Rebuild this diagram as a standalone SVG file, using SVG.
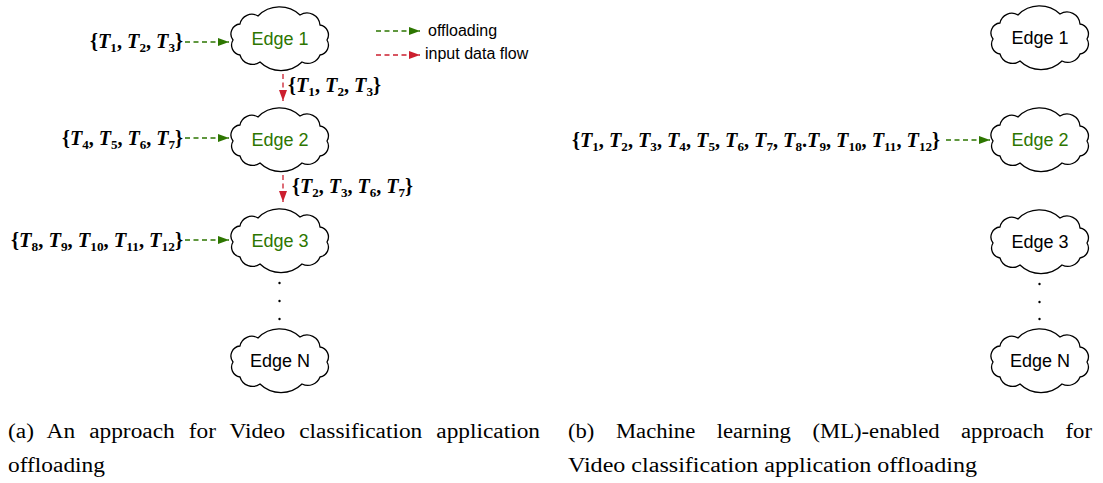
<svg xmlns="http://www.w3.org/2000/svg" width="1103" height="483" viewBox="0 0 1103 483">
<style>
.cloud{fill:#fff;stroke:#000;stroke-width:1.3}
.lbl{font-family:"Liberation Sans",Arial,sans-serif;font-size:18px;text-anchor:middle}
.g{fill:#2D7600}
.k{fill:#000}
.math{font-family:"Liberation Serif","Times New Roman",serif;font-size:20px;font-weight:bold;fill:#000}
.math .i{font-style:italic}
.leg{font-family:"Liberation Sans",Arial,sans-serif;font-size:16px;fill:#000}
.cap{font-family:"Liberation Serif","Times New Roman",serif;font-size:20px;fill:#000}
.off{stroke:#2D7600;stroke-width:1.3;stroke-dasharray:5 3.5;fill:none;marker-end:url(#ag)}
.inp{stroke:#CC1F2F;stroke-width:1.3;stroke-dasharray:5 3.5;fill:none;marker-end:url(#ar)}
.dot{fill:#000}
</style>
<defs>
<path id="cl" d="M -47 2 A 10 10 0 0 1 -40 -14 A 12 12 0 0 1 -22 -22 A 30 30 0 0 1 20 -23 A 13 13 0 0 1 40 -13 A 10 10 0 0 1 47 2 A 10 10 0 0 1 40 17 A 13 13 0 0 1 22 24 A 30 30 0 0 1 -20 24 A 13 13 0 0 1 -40 17 A 10 10 0 0 1 -47 2 Z"/>
<marker id="ag" markerUnits="userSpaceOnUse" markerWidth="12" markerHeight="9" refX="11" refY="4" orient="auto"><path d="M0,0 L11,4 L0,8 z" fill="#2D7600"/></marker>
<marker id="ar" markerUnits="userSpaceOnUse" markerWidth="12" markerHeight="9" refX="11" refY="4" orient="auto"><path d="M0,0 L11,4 L0,8 z" fill="#CC1F2F"/></marker>
</defs>

<g id="connectors">
<line class="off" x1="185" y1="42" x2="229" y2="42"/>
<line class="off" x1="185" y1="138" x2="229" y2="138"/>
<line class="off" x1="185" y1="240" x2="229" y2="240"/>
<line class="inp" x1="283" y1="74" x2="283" y2="101"/>
<line class="inp" x1="283" y1="175" x2="283" y2="202"/>
<line class="off" x1="946" y1="140" x2="990" y2="140"/>
<line class="off" x1="376" y1="31" x2="420" y2="31"/>
<line class="inp" x1="376" y1="55" x2="420" y2="55"/>
</g>

<g id="legend">
<text class="leg" x="428" y="36">offloading</text>
<text class="leg" x="425" y="59">input data flow</text>
</g>

<g id="a-edge1"><use href="#cl" class="cloud" transform="translate(280,38)"/><text class="lbl g" x="280" y="44.5">Edge 1</text></g>
<g id="a-edge2"><use href="#cl" class="cloud" transform="translate(280,139)"/><text class="lbl g" x="280" y="145.5">Edge 2</text></g>
<g id="a-edge3"><use href="#cl" class="cloud" transform="translate(280,240)"/><text class="lbl g" x="280" y="246.5">Edge 3</text></g>
<g id="a-edgeN"><use href="#cl" class="cloud" transform="translate(280,360)"/><text class="lbl k" x="280" y="366.5">Edge N</text></g>
<g id="a-dots"><circle class="dot" cx="279.5" cy="283" r="1.2"/><circle class="dot" cx="279.5" cy="301" r="1.2"/><circle class="dot" cx="279.5" cy="319" r="1.2"/></g>

<g id="b-edge1"><use href="#cl" class="cloud" transform="translate(1040,37)"/><text class="lbl k" x="1040" y="43.5">Edge 1</text></g>
<g id="b-edge2"><use href="#cl" class="cloud" transform="translate(1040,139)"/><text class="lbl g" x="1040" y="145.5">Edge 2</text></g>
<g id="b-edge3"><use href="#cl" class="cloud" transform="translate(1040,241)"/><text class="lbl k" x="1040" y="247.5">Edge 3</text></g>
<g id="b-edgeN"><use href="#cl" class="cloud" transform="translate(1040,360)"/><text class="lbl k" x="1040" y="366.5">Edge N</text></g>
<g id="b-dots"><circle class="dot" cx="1039.5" cy="284" r="1.2"/><circle class="dot" cx="1039.5" cy="302" r="1.2"/><circle class="dot" cx="1039.5" cy="319" r="1.2"/></g>

<g id="labels">
<text class="math" x="90" y="48" textLength="93" lengthAdjust="spacingAndGlyphs">{<tspan class="i">T</tspan><tspan font-size="13" dy="4">1</tspan><tspan dy="-4">, </tspan><tspan class="i">T</tspan><tspan font-size="13" dy="4">2</tspan><tspan dy="-4">, </tspan><tspan class="i">T</tspan><tspan font-size="13" dy="4">3</tspan><tspan dy="-4">}</tspan></text>
<text class="math" x="62" y="145" textLength="121" lengthAdjust="spacingAndGlyphs">{<tspan class="i">T</tspan><tspan font-size="13" dy="4">4</tspan><tspan dy="-4">, </tspan><tspan class="i">T</tspan><tspan font-size="13" dy="4">5</tspan><tspan dy="-4">, </tspan><tspan class="i">T</tspan><tspan font-size="13" dy="4">6</tspan><tspan dy="-4">, </tspan><tspan class="i">T</tspan><tspan font-size="13" dy="4">7</tspan><tspan dy="-4">}</tspan></text>
<text class="math" x="11" y="247" textLength="172" lengthAdjust="spacingAndGlyphs">{<tspan class="i">T</tspan><tspan font-size="13" dy="4">8</tspan><tspan dy="-4">, </tspan><tspan class="i">T</tspan><tspan font-size="13" dy="4">9</tspan><tspan dy="-4">, </tspan><tspan class="i">T</tspan><tspan font-size="13" dy="4">10</tspan><tspan dy="-4">, </tspan><tspan class="i">T</tspan><tspan font-size="13" dy="4">11</tspan><tspan dy="-4">, </tspan><tspan class="i">T</tspan><tspan font-size="13" dy="4">12</tspan><tspan dy="-4">}</tspan></text>
<text class="math" x="288" y="92" textLength="93" lengthAdjust="spacingAndGlyphs">{<tspan class="i">T</tspan><tspan font-size="13" dy="4">1</tspan><tspan dy="-4">, </tspan><tspan class="i">T</tspan><tspan font-size="13" dy="4">2</tspan><tspan dy="-4">, </tspan><tspan class="i">T</tspan><tspan font-size="13" dy="4">3</tspan><tspan dy="-4">}</tspan></text>
<text class="math" x="292" y="193" textLength="121" lengthAdjust="spacingAndGlyphs">{<tspan class="i">T</tspan><tspan font-size="13" dy="4">2</tspan><tspan dy="-4">, </tspan><tspan class="i">T</tspan><tspan font-size="13" dy="4">3</tspan><tspan dy="-4">, </tspan><tspan class="i">T</tspan><tspan font-size="13" dy="4">6</tspan><tspan dy="-4">, </tspan><tspan class="i">T</tspan><tspan font-size="13" dy="4">7</tspan><tspan dy="-4">}</tspan></text>
<text class="math" x="572" y="147" textLength="368" lengthAdjust="spacingAndGlyphs">{<tspan class="i">T</tspan><tspan font-size="13" dy="4">1</tspan><tspan dy="-4">, </tspan><tspan class="i">T</tspan><tspan font-size="13" dy="4">2</tspan><tspan dy="-4">, </tspan><tspan class="i">T</tspan><tspan font-size="13" dy="4">3</tspan><tspan dy="-4">, </tspan><tspan class="i">T</tspan><tspan font-size="13" dy="4">4</tspan><tspan dy="-4">, </tspan><tspan class="i">T</tspan><tspan font-size="13" dy="4">5</tspan><tspan dy="-4">, </tspan><tspan class="i">T</tspan><tspan font-size="13" dy="4">6</tspan><tspan dy="-4">, </tspan><tspan class="i">T</tspan><tspan font-size="13" dy="4">7</tspan><tspan dy="-4">, </tspan><tspan class="i">T</tspan><tspan font-size="13" dy="4">8</tspan><tspan dy="-4">.</tspan><tspan class="i">T</tspan><tspan font-size="13" dy="4">9</tspan><tspan dy="-4">, </tspan><tspan class="i">T</tspan><tspan font-size="13" dy="4">10</tspan><tspan dy="-4">, </tspan><tspan class="i">T</tspan><tspan font-size="13" dy="4">11</tspan><tspan dy="-4">, </tspan><tspan class="i">T</tspan><tspan font-size="13" dy="4">12</tspan><tspan dy="-4">}</tspan></text>
</g>

<g id="captions">
<text class="cap" x="8" y="438" word-spacing="7" textLength="532" lengthAdjust="spacingAndGlyphs">(a) An approach for Video classification application</text>
<text class="cap" x="8" y="472" textLength="97" lengthAdjust="spacingAndGlyphs">offloading</text>
<text class="cap" x="568" y="438" word-spacing="14" textLength="524" lengthAdjust="spacingAndGlyphs">(b) Machine learning (ML)-enabled approach for</text>
<text class="cap" x="568" y="472" textLength="409" lengthAdjust="spacingAndGlyphs">Video classification application offloading</text>
</g>
</svg>
